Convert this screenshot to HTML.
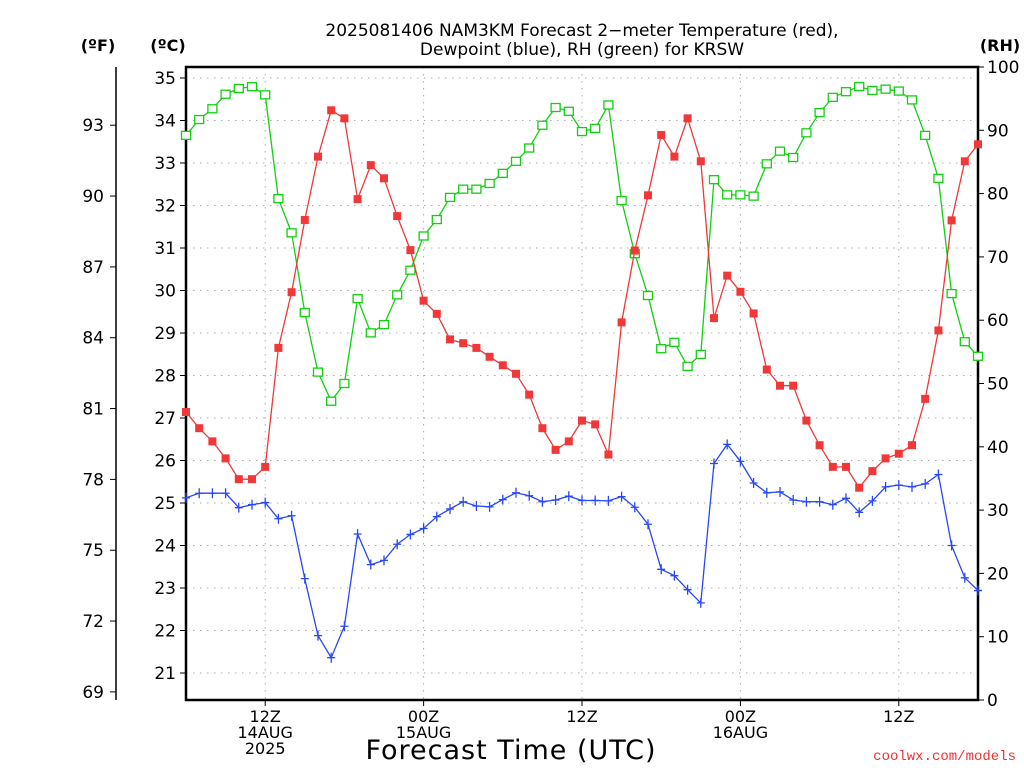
<!DOCTYPE html>
<html><head><meta charset="utf-8"><style>
body{margin:0;background:#fff;}
svg{display:block;font-family:"DejaVu Sans","Liberation Sans",sans-serif;}
</style></head><body>
<svg id="chart" width="1024" height="768" xmlns="http://www.w3.org/2000/svg">
<text x="582" y="36" text-anchor="middle" font-size="17">2025081406 NAM3KM Forecast 2−meter Temperature (red),</text>
<text x="582" y="55" text-anchor="middle" font-size="17">Dewpoint (blue), RH (green) for KRSW</text>
<text x="98" y="51" text-anchor="middle" font-size="16" font-weight="bold">(ºF)</text>
<text x="168" y="51" text-anchor="middle" font-size="16" font-weight="bold">(ºC)</text>
<text x="1000" y="51" text-anchor="middle" font-size="16" font-weight="bold">(RH)</text>
<text x="511" y="759" text-anchor="middle" font-size="27" letter-spacing="1">Forecast Time (UTC)</text>
<text x="1016" y="760" text-anchor="end" font-size="14" fill="#f03030" font-family="Liberation Mono, monospace">coolwx.com/models</text>
<g id="grid"></g><g id="axes"></g><g id="series"></g>
</svg>
<script>
const hours = [];
for (let i = 0; i <= 60; i++) hours.push(i);
const tempC = [27.14,26.76,26.45,26.05,25.56,25.56,25.85,28.65,29.96,31.66,33.15,34.24,34.05,32.15,32.95,32.64,31.75,30.95,29.76,29.45,28.85,28.76,28.65,28.44,28.24,28.04,27.55,26.76,26.25,26.45,26.94,26.85,26.14,29.25,30.94,32.24,33.66,33.15,34.05,33.04,29.35,30.35,29.97,29.46,28.14,27.76,27.76,26.94,26.36,25.85,25.85,25.36,25.75,26.05,26.16,26.36,27.45,29.06,31.65,33.04,33.44];
const dewC = [25.12,25.23,25.23,25.23,24.89,24.96,25.01,24.63,24.70,23.22,21.88,21.36,22.10,24.27,23.55,23.65,24.03,24.26,24.40,24.68,24.86,25.03,24.93,24.91,25.08,25.24,25.17,25.03,25.07,25.16,25.06,25.06,25.05,25.15,24.90,24.50,23.44,23.29,22.96,22.65,25.93,26.38,25.98,25.47,25.24,25.26,25.07,25.03,25.03,24.96,25.11,24.78,25.05,25.38,25.42,25.38,25.45,25.67,24.00,23.24,22.94];
const rh = [89.2,91.7,93.4,95.7,96.6,96.9,95.6,79.2,73.8,61.2,51.8,47.2,50.0,63.4,58.0,59.3,64.0,67.9,73.3,75.9,79.4,80.7,80.7,81.6,83.2,85.1,87.2,90.8,93.6,93.0,89.8,90.3,94.0,78.9,70.5,63.9,55.5,56.5,52.7,54.6,82.2,79.8,79.8,79.6,84.7,86.7,85.7,89.6,92.8,95.2,96.1,96.9,96.3,96.5,96.2,94.8,89.2,82.4,64.2,56.6,54.3];
const cTicks = [21,22,23,24,25,26,27,28,29,30,31,32,33,34,35];
const fTicks = [69,72,75,78,81,84,87,90,93];
const rhTicks = [0,10,20,30,40,50,60,70,80,90,100];
const xTickHours = [6,18,30,42,54];
const xTickLabels = [["12Z","14AUG","2025"],["00Z","15AUG"],["12Z"],["00Z","16AUG"],["12Z"]];

const L=186,R=978,T=67,B=700;
const xS=h=>L+(R-L)*h/60;
const yC=c=>78+(35-c)*42.5;
const yF=f=>yC((f-32)*5/9);
const yR=r=>B-(B-T)*r/100;
const NS="http://www.w3.org/2000/svg";
function mk(tag,attrs,parent){const e=document.createElementNS(NS,tag);for(const k in attrs)e.setAttribute(k,attrs[k]);parent.appendChild(e);return e;}
const grid=document.getElementById('grid'),axes=document.getElementById('axes'),ser=document.getElementById('series');

cTicks.forEach(c=>{
  const g=mk('line',{x1:L,x2:R,y1:yC(c),y2:yC(c),stroke:'#aaa','stroke-dasharray':'1.5 5.5'},grid);
  
  
  const t=mk('line',{x1:L-6,x2:L,y1:yC(c),y2:yC(c),stroke:'#000'},axes);
  
  
  const tx=mk('text',{x:L-10,y:yC(c)+6,'text-anchor':'end','font-size':17},axes);
  tx.textContent=c;
  
  
});
xTickHours.forEach((h,i)=>{
  const g=mk('line',{x1:xS(h),x2:xS(h),y1:T,y2:B,stroke:'#aaa','stroke-dasharray':'1.5 5.5'},grid);
  
  
  const t=mk('line',{x1:xS(h),x2:xS(h),y1:B,y2:B+6,stroke:'#000'},axes);
  
  
  xTickLabels[i].forEach((s,j)=>{
    const tx=mk('text',{x:xS(h),y:722+j*16,'text-anchor':'middle','font-size':16},axes);
    tx.textContent=s;
    
    
  });
});
// F axis
const fl=mk('line',{x1:116,x2:116,y1:67,y2:700,stroke:'#000','stroke-width':1.5},axes);


fTicks.forEach(f=>{
  const t=mk('line',{x1:110,x2:116,y1:yF(f),y2:yF(f),stroke:'#000'},axes);
  
  
  const tx=mk('text',{x:104,y:yF(f)+6,'text-anchor':'end','font-size':17},axes);
  tx.textContent=f;
  
  
});
rhTicks.forEach(r=>{
  const t=mk('line',{x1:R,x2:R+6,y1:yR(r),y2:yR(r),stroke:'#000'},axes);
  
  
  const tx=mk('text',{x:R+9,y:yR(r)+6,'font-size':17},axes);
  tx.textContent=r;
  
  
});
const fr=mk('rect',{x:L,y:T,width:R-L,height:B-T,fill:'none',stroke:'#000','stroke-width':2.5},axes);



function series(vals,yf,color,marker,name){
  const pts=vals.map((v,i)=>xS(hours[i]).toFixed(1)+','+yf(v).toFixed(1)).join(' ');
  const pl=mk('polyline',{points:pts,fill:'none',stroke:color,'stroke-width':1.3},ser);
  
  
  vals.forEach((v,i)=>{
    const x=xS(hours[i]),y=yf(v);let m;
    if(marker==='fill'){m=mk('rect',{x:x-4,y:y-4,width:8,height:8,fill:color},ser);}
    else if(marker==='open'){m=mk('rect',{x:x-4.5,y:y-4,width:9,height:8,fill:'#fff',stroke:color,'stroke-width':1.3},ser);}
    else{m=mk('path',{d:`M${x-4},${y}H${x+4}M${x},${y-5}V${y+5}`,stroke:color,'stroke-width':1.3},ser);}
    
    
  });
}
series(rh,yR,'#10d010','open','rh');
series(tempC,yC,'#f03838','fill','temperature');
series(dewC,yC,'#2848f8','plus','dewpoint');
</script>
</body></html>
